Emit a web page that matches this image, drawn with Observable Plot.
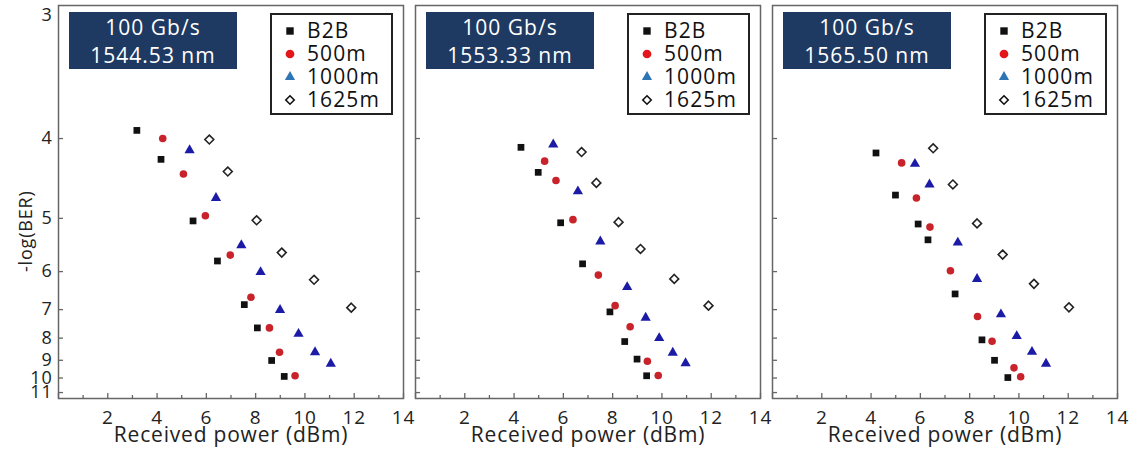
<!DOCTYPE html>
<html><head><meta charset="utf-8">
<script src="https://cdn.jsdelivr.net/npm/d3@7"></script>
<script src="https://cdn.jsdelivr.net/npm/@observablehq/plot@0.6"></script>
<style>
body{margin:0;background:#fff;}
#wrap{position:relative;width:1134px;height:456px;font-family:"Open Sans",sans-serif;}
#wrap > svg{position:absolute;left:0;top:0;}
.tbox{position:absolute;background:#1f3a62;color:#fff;font-size:21px;line-height:28px;text-align:center;letter-spacing:1px;padding-top:1px;box-sizing:border-box;}
.lbox{position:absolute;border:2px solid #222;background:#fff;box-sizing:border-box;font-size:21px;line-height:23px;letter-spacing:1.1px;color:#111;padding-top:4px;}
.row{display:flex;align-items:center;height:23px;}
.row svg{width:14px;height:14px;margin-left:11px;margin-right:10px;flex:none;}
</style></head>
<body><div id="wrap"></div>
<script>
// ---- data ----
const panels = ["1544.53 nm", "1553.33 nm", "1565.50 nm"];
const rate = "100 Gb/s";
const series = ["B2B", "500m", "1000m", "1625m"];
const xMajorTicks = [0, 2, 4, 6, 8, 10, 12, 14];
const xMinorTicks = [1, 3, 5, 7, 9, 11, 13];
const yTicks = [3, 4, 5, 6, 7, 8, 9, 10, 11];

// received power (dBm), per series [B2B, 500m, 1000m, 1625m]
const power_1544 = [
  [3.18, 4.16, 5.46, 6.45, 7.54, 8.07, 8.65, 9.16],
  [4.23, 5.07, 5.96, 6.97, 7.81, 8.56, 8.97, 9.60],
  [5.32, 6.39, 7.42, 8.20, 8.99, 9.74, 10.41, 11.05],
  [6.12, 6.87, 8.04, 9.06, 10.37, 11.88]
];
const logber_1544 = [
  [3.92, 4.22, 5.04, 5.77, 6.85, 7.61, 9.01, 9.90],
  [4.00, 4.39, 4.96, 5.65, 6.64, 7.61, 8.61, 9.86],
  [4.12, 4.70, 5.46, 6.01, 7.01, 7.83, 8.61, 9.18],
  [4.01, 4.36, 5.03, 5.60, 6.19, 6.94]
];
const power_1553 = [
  [4.28, 4.98, 5.89, 6.78, 7.89, 8.49, 8.99, 9.38],
  [5.24, 5.70, 6.39, 7.42, 8.10, 8.71, 9.41, 9.85],
  [5.59, 6.59, 7.50, 8.59, 9.34, 9.89, 10.44, 10.96],
  [6.74, 7.34, 8.24, 9.13, 10.50, 11.89]
];
const logber_1553 = [
  [4.09, 4.37, 5.07, 5.83, 7.07, 8.14, 8.94, 9.86],
  [4.24, 4.47, 5.02, 6.08, 6.88, 7.57, 9.05, 9.84],
  [4.06, 4.61, 5.39, 6.37, 7.26, 8.00, 8.63, 9.15],
  [4.14, 4.50, 5.06, 5.53, 6.17, 6.88]
];
const power_1565 = [
  [4.20, 4.99, 5.91, 6.31, 7.41, 8.50, 9.01, 9.55],
  [5.24, 5.84, 6.39, 7.22, 8.32, 8.91, 9.80, 10.07],
  [5.78, 6.37, 7.52, 8.30, 9.27, 9.91, 10.53, 11.10],
  [6.52, 7.32, 8.30, 9.34, 10.61, 12.03]
];
const logber_1565 = [
  [4.15, 4.66, 5.09, 5.36, 6.55, 8.07, 9.00, 9.97],
  [4.26, 4.70, 5.14, 5.98, 7.22, 8.13, 9.40, 9.92],
  [4.27, 4.52, 5.41, 6.17, 7.15, 7.92, 8.59, 9.18],
  [4.10, 4.52, 5.08, 5.64, 6.29, 6.93]
];

// ---- table ----
const powers = [power_1544, power_1553, power_1565];
const bers = [logber_1544, logber_1553, logber_1565];
const rows = [];
panels.forEach((p, i) => series.forEach((s, j) => powers[i][j].forEach((x, k) =>
  rows.push({panel: p, series: s, power: x, ber: bers[i][j][k]}))));
const of = s => rows.filter(d => d.series === s);

const axisGray = "#666";
const chart = Plot.plot({
  width: 1134, height: 456,
  marginTop: 5, marginBottom: 58, marginLeft: 57, marginRight: 17,
  style: {fontFamily: "'Open Sans', sans-serif", fontSize: "18px", color: "#222", background: "transparent", letterSpacing: "0.8px"},
  fx: {domain: panels, paddingInner: 0.035, paddingOuter: 0, axis: null, label: null},
  x: {domain: [0, 14], label: null},
  y: {type: "pow", exponent: -1, domain: [3, 11.47], reverse: true, label: null},
  marks: [
    Plot.frame({stroke: axisGray, strokeWidth: 1.5}),
    Plot.axisX(xMajorTicks, {tickSize: -5, tickPadding: 17, stroke: axisGray, strokeWidth: 1.3,
      tickFormat: d => d === 0 ? "" : d, fontSize: 19, fill: "#222", label: null}),
    Plot.axisX(xMinorTicks, {tickSize: -3, tickFormat: () => "", stroke: axisGray, strokeWidth: 1.3, label: null}),
    Plot.axisY(yTicks.slice(1), {tickSize: -5, tickFormat: () => "", facetAnchor: null, stroke: axisGray, strokeWidth: 1.3, label: null}),
    Plot.axisY(yTicks.slice(1), {tickSize: 0, tickPadding: 6, fontSize: 18, fill: "#222", label: null}),
    Plot.axisY(yTicks.slice(0, 1), {tickSize: 0, tickPadding: 6, dy: 10, fontSize: 18, fill: "#222", label: null}),
    Plot.text([panels[0]], {fx: d => d, text: () => "-log(BER)", frameAnchor: "left", rotate: -90, dx: -32, dy: 70, fontSize: 18, fill: "#222"}),
    Plot.text(panels, {fx: d => d, text: () => "Received power (dBm)", frameAnchor: "bottom", dy: 43, fontSize: 21, fill: "#222", letterSpacing: "1px"}),
    Plot.dot(of("B2B"), {x: "power", y: "ber", fx: "panel", symbol: "square", fill: "#111", r: 3.8}),
    Plot.dot(of("500m"), {x: "power", y: "ber", fx: "panel", symbol: "circle", fill: "#c8222a", r: 3.8}),
    Plot.dot(of("1000m"), {x: "power", y: "ber", fx: "panel", symbol: "triangle", fill: "#1b1ba6", r: 3.8}),
    Plot.dot(of("1625m"), {x: "power", y: "ber", fx: "panel", symbol: "diamond2", fill: "white", stroke: "#222", strokeWidth: 1.6, r: 4})
  ]
});

const wrap = document.getElementById("wrap");
wrap.appendChild(chart);

// ---- annotations: title boxes and legends ----
const legendItems = [
  {sym: d3.symbolSquare, size: 55, fill: "#111", stroke: "none"},
  {sym: d3.symbolCircle, size: 60, fill: "#e3171b", stroke: "none"},
  {sym: d3.symbolTriangle, size: 45, fill: "#2e75b6", stroke: "none"},
  {sym: d3.symbolDiamond2, size: 45, fill: "#fff", stroke: "#111"}
];
const fxs = chart.scale("fx");
panels.forEach(p => {
  const left = fxs.apply(p);
  const t = document.createElement("div");
  t.className = "tbox";
  Object.assign(t.style, {left: (left + 11) + "px", top: "12px", width: "168px", height: "57px"});
  t.innerHTML = `<div>${rate}</div><div>${p}</div>`;
  wrap.appendChild(t);

  const l = document.createElement("div");
  l.className = "lbox";
  Object.assign(l.style, {left: (left + 212) + "px", top: "13px", width: "123px", height: "102px"});
  legendItems.forEach((it, i) => {
    const row = document.createElement("div");
    row.className = "row";
    const path = d3.symbol(it.sym, it.size)();
    row.innerHTML = `<svg viewBox="-7 -7 14 14"><path d="${path}" fill="${it.fill}" stroke="${it.stroke}" stroke-width="1.6"/></svg><span>${series[i]}</span>`;
    l.appendChild(row);
  });
  wrap.appendChild(l);
});
</script>
</body></html>
